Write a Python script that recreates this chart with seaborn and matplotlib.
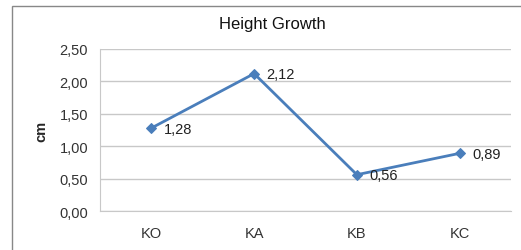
import matplotlib
matplotlib.use("Agg")
import matplotlib.pyplot as plt
import seaborn as sns
import pandas as pd
from matplotlib.patches import Rectangle

categories = ["KO", "KA", "KB", "KC"]
values = [1.28, 2.12, 0.56, 0.89]
yticks = [0.0, 0.5, 1.0, 1.5, 2.0, 2.5]

sns.set_style("white")
plt.rcParams['font.family'] = ['Liberation Sans', 'DejaVu Sans']

df = pd.DataFrame({"cat": categories, "val": values})
W, H = 521, 251
fig = plt.figure(figsize=(W/100, H/100), dpi=100)
ax = fig.add_axes([100/W, 1-212/H, 411/W, 162/H])

sns.lineplot(data=df, x="cat", y="val", ax=ax, color="#4A7EBB", linewidth=2,
             marker="D", markersize=5, markeredgecolor="#4A7EBB", sort=False)

ax.set_xlim(-0.5, 3.5)
ax.set_ylim(0, 2.5)
ax.set_yticks(yticks)
ax.set_yticklabels([f"{v:.2f}".replace(".", ",") for v in yticks], fontsize=10.5, color="#333333")
ax.set_xticks(range(len(categories)))
ax.set_xticklabels(categories, fontsize=10.5, color="#333333")
ax.tick_params(axis="y", length=0, pad=8.5)
ax.tick_params(axis="x", length=0, pad=11)
ax.grid(axis="y", color="#c8c8c8", linewidth=1)
ax.set_axisbelow(True)
for s in ["top", "right"]:
    ax.spines[s].set_visible(False)
ax.spines["left"].set_color("#c8c8c8")
ax.spines["bottom"].set_color("#c8c8c8")
ax.set_xlabel("")
ax.set_ylabel("cm", fontsize=10.5, fontweight="bold", labelpad=8)

for i, v in enumerate(values):
    ax.annotate(f"{v:.2f}".replace(".", ","), (i, v), xytext=(9, -0.5),
                textcoords="offset points", va="center", ha="left", fontsize=10.5, color="#222222")

fig.text(272/W, 1-25/H, "Height Growth", ha="center", va="center", fontsize=12, color="#111111")
fig.patches.append(Rectangle((12/W, -0.1), 1.2, (1-7/H)+0.1, transform=fig.transFigure,
                             fill=False, edgecolor="#888888", linewidth=1))

fig.savefig("out.png", dpi=100)
